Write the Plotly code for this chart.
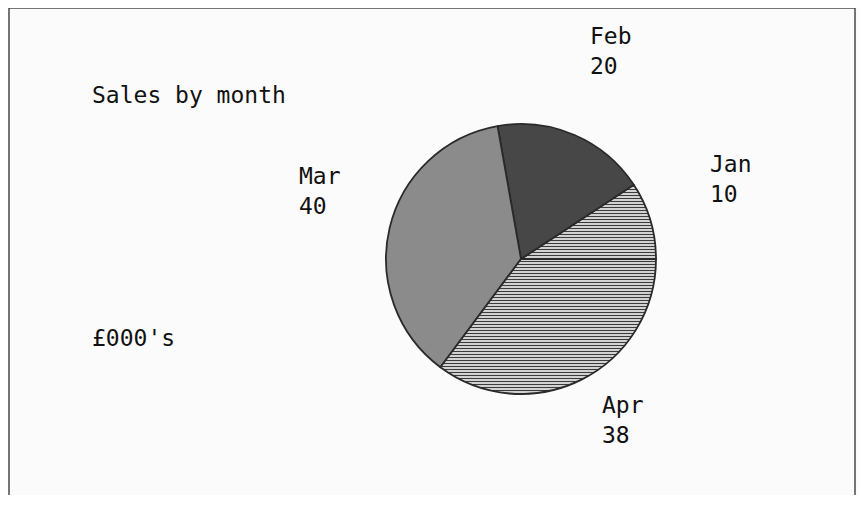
import math
import plotly.graph_objects as go

# ---- data ----
months = ["Jan", "Feb", "Mar", "Apr"]
sales = [10, 20, 40, 38]
title_text = "Sales by month"
unit_text = "£000's"

# ---- styles ----
PAGE_W, PAGE_H = 867, 509
BODY = 8                      # default page margin around the plot div
W, H = PAGE_W - BODY - 2, PAGE_H - 2 * BODY - 6
slice_colors = ["#f2f2f2", "#474747", "#8b8b8b", "#f2f2f2"]
pattern_shapes = ["-", "", "", "-"]
font_family = "DejaVu Sans Mono, monospace"
text_color = "#111111"


def px_x(x):
    return (x - BODY) / W


def px_y(y):
    return 1 - (y - BODY) / H


# pie geometry (page pixels)
pie_cx, pie_cy, pie_d = 521, 259, 270
start_deg = 0  # first slice starts at 3 o'clock, counterclockwise
total = sum(sales)

fig = go.Figure()
fig.add_trace(go.Pie(
    labels=months,
    values=sales,
    sort=False,
    direction="counterclockwise",
    # plotly puts the first slice's clockwise edge at `rotation` in ccw mode
    rotation=90 - start_deg - sales[0] / total * 360,
    textinfo="none",
    hoverinfo="label+value",
    showlegend=False,
    marker=dict(
        colors=slice_colors,
        line=dict(color="#2a2a2a", width=1.8),
        pattern=dict(
            shape=pattern_shapes,
            fgcolor="#3c3c3c",
            bgcolor=slice_colors,
            size=3,
            solidity=0.45,
        ),
    ),
    domain=dict(
        x=[px_x(pie_cx - pie_d / 2), px_x(pie_cx + pie_d / 2)],
        y=[px_y(pie_cy + pie_d / 2), px_y(pie_cy - pie_d / 2)],
    ),
))

# slice labels placed along each slice's mid-angle
lab_cx, lab_cy, lab_rx, lab_ry = 527, 238, 213, 204
cum = 0.0
annotations = []
for m, v in zip(months, sales):
    mid = math.radians(start_deg + (cum + v / 2) / total * 360)
    cum += v
    px = lab_cx + lab_rx * math.cos(mid)
    py = lab_cy - lab_ry * math.sin(mid)
    annotations.append(dict(
        x=px_x(px), y=px_y(py), xref="paper", yref="paper",
        text=f"{m}<br>{v}", showarrow=False, align="left",
        xanchor="center", yanchor="middle",
        font=dict(family=font_family, size=23, color=text_color),
    ))

annotations.append(dict(
    x=px_x(90), y=px_y(95), xref="paper", yref="paper", text=title_text,
    showarrow=False, xanchor="left", yanchor="middle",
    font=dict(family=font_family, size=23, color=text_color),
))
annotations.append(dict(
    x=px_x(90), y=px_y(338), xref="paper", yref="paper", text=unit_text,
    showarrow=False, xanchor="left", yanchor="middle",
    font=dict(family=font_family, size=23, color=text_color),
))

fig.update_layout(
    width=W, height=H,
    margin=dict(l=0, r=0, t=0, b=0),
    paper_bgcolor="#fbfbfb",
    plot_bgcolor="#fbfbfb",
    annotations=annotations,
    shapes=[dict(
        type="rect", xref="paper", yref="paper",
        x0=px_x(9), x1=px_x(855), y0=-0.05, y1=px_y(8),
        line=dict(color="#4a4a4a", width=1.5),
    )],
)

fig.write_html("out.html")
